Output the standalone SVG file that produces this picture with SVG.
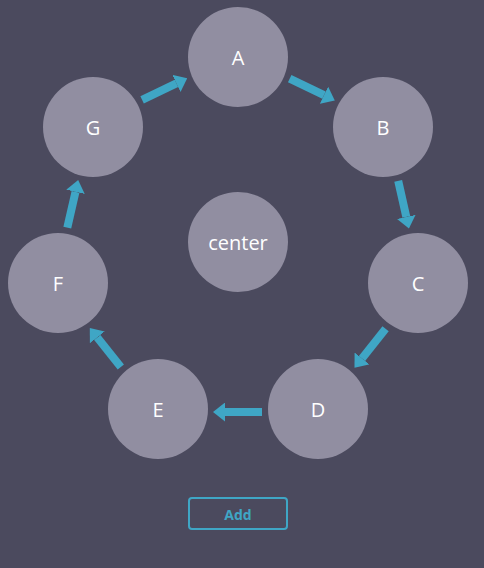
<svg xmlns="http://www.w3.org/2000/svg" width="484" height="568" viewBox="0 0 484 568">
<style>
.n{fill:#918ea1}
.t{fill:#ffffff;font-family:"Open Sans","Noto Sans",sans-serif;font-size:20px;text-anchor:middle;dominant-baseline:central}
.e{stroke:#3fa6c5;stroke-width:8;fill:none;stroke-linecap:butt}
.btn{fill:none;stroke:#3fa6c5;stroke-width:2}
.bt{fill:#3fa6c5;font-family:"Open Sans","Noto Sans",sans-serif;font-size:14px;font-weight:bold;text-anchor:middle;dominant-baseline:central}
</style>
<defs>
<marker id="ah" viewBox="0 0 12 19" refX="0" refY="9.5" markerWidth="12" markerHeight="19" markerUnits="userSpaceOnUse" orient="auto">
<path d="M0,0 L12,9.5 L0,19 z" fill="#3fa6c5"/>
</marker>
</defs>
<rect width="484" height="568" fill="#4b4a5e"/>
<g id="connectors">
<line class="e" x1="289.7" y1="78.6" x2="324.0" y2="95.2" marker-end="url(#ah)"/>
<line class="e" x1="398.2" y1="180.9" x2="406.3" y2="216.9" marker-end="url(#ah)"/>
<line class="e" x1="385.6" y1="328.8" x2="362.0" y2="358.4" marker-end="url(#ah)"/>
<line class="e" x1="262" y1="412" x2="225" y2="412" marker-end="url(#ah)"/>
<line class="e" x1="120.8" y1="367.0" x2="97.3" y2="337.4" marker-end="url(#ah)"/>
<line class="e" x1="67.3" y1="227.7" x2="75.5" y2="191.8" marker-end="url(#ah)"/>
<line class="e" x1="142.1" y1="99.9" x2="176.4" y2="83.4" marker-end="url(#ah)"/>
</g>
<g id="node-A"><circle class="n" cx="238" cy="57" r="50"/><text class="t" x="238" y="57">A</text></g>
<g id="node-B"><circle class="n" cx="383" cy="127" r="50"/><text class="t" x="383" y="127">B</text></g>
<g id="node-C"><circle class="n" cx="418" cy="283" r="50"/><text class="t" x="418" y="283">C</text></g>
<g id="node-D"><circle class="n" cx="318" cy="409" r="50"/><text class="t" x="318" y="409">D</text></g>
<g id="node-E"><circle class="n" cx="158" cy="409" r="50"/><text class="t" x="158" y="409">E</text></g>
<g id="node-F"><circle class="n" cx="58" cy="283" r="50"/><text class="t" x="58" y="283">F</text></g>
<g id="node-G"><circle class="n" cx="93" cy="127" r="50"/><text class="t" x="93" y="127">G</text></g>
<g id="node-center"><circle class="n" cx="238" cy="242" r="50"/><text class="t" x="238" y="242">center</text></g>
<g id="button-add"><rect class="btn" x="189" y="498" width="98" height="31" rx="3"/><text class="bt" x="238" y="514">Add</text></g>
</svg>
